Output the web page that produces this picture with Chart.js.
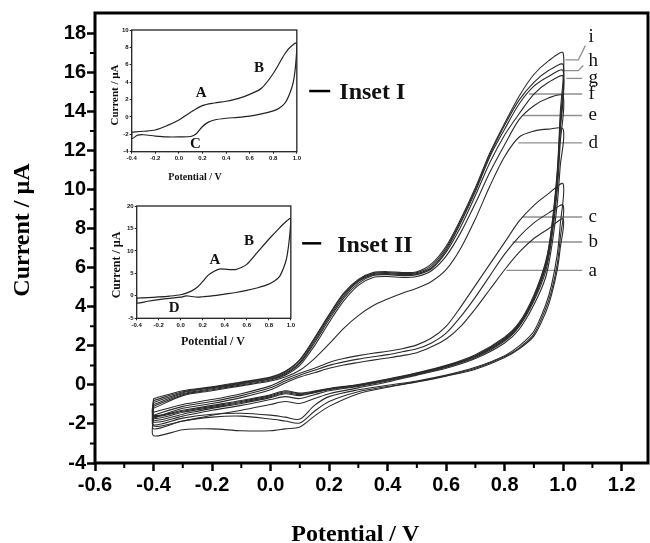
<!DOCTYPE html>
<html>
<head>
<meta charset="utf-8">
<script src="https://cdn.jsdelivr.net/npm/chart.js@4.4.1/dist/chart.umd.min.js"></script>
<style>
  html, body { margin: 0; padding: 0; background: #fff; }
  .wrap { position: relative; width: 650px; height: 543px; }
  #main { position: absolute; left: 0; top: 0; }
  #inset1 { position: absolute; left: 100px; top: 22px; }
  #inset2 { position: absolute; left: 100px; top: 196px; }
</style>
</head>
<body>
<div class="wrap">
  <canvas id="main" width="650" height="543"></canvas>
  <canvas id="inset1" width="202" height="164"></canvas>
  <canvas id="inset2" width="196" height="154"></canvas>
</div>
<script>
const sans = '"Liberation Sans", Arial, sans-serif';
const serif = '"Liberation Serif", "Times New Roman", serif';

// potentials (V) for the anodic (forward) and cathodic (reverse) sweeps
const fwdV = [-0.4, -0.3, -0.2, -0.1, 0.0, 0.05, 0.1, 0.15, 0.2, 0.25, 0.3, 0.35, 0.4, 0.45, 0.5, 0.55, 0.6, 0.65, 0.7, 0.75, 0.8, 0.85, 0.9, 0.95, 1.0];
const revV = [0.99, 0.98, 0.96, 0.94, 0.9, 0.85, 0.8, 0.7, 0.6, 0.5, 0.4, 0.3, 0.2, 0.15, 0.1, 0.05, 0.0, -0.1, -0.2, -0.3, -0.4];

// currents (uA), curves a..i
const aFwd = [-1.7, -1.2, -0.95, -0.65, -0.25, 0.1, 0.4, 0.62, 0.85, 1.02, 1.15, 1.27, 1.38, 1.5, 1.65, 1.95, 2.35, 3.0, 3.9, 4.9, 5.9, 6.8, 7.5, 8.0, 8.5];
const aRev = [7.0, 5.9, 4.6, 3.7, 2.5, 1.85, 1.4, 0.8, 0.45, 0.15, -0.12, -0.45, -1.1, -1.6, -2.15, -2.25, -2.35, -2.35, -2.25, -2.3, -2.6];
const bFwd = [-1.55, -1.1, -0.85, -0.55, -0.15, 0.2, 0.5, 0.75, 1.0, 1.18, 1.32, 1.44, 1.55, 1.7, 1.85, 2.15, 2.65, 3.5, 4.5, 5.6, 6.7, 7.6, 8.3, 8.8, 9.2];
const bRev = [7.5, 6.2, 4.8, 3.9, 2.6, 1.9, 1.45, 0.85, 0.47, 0.17, -0.08, -0.35, -0.85, -1.35, -1.95, -1.85, -1.75, -1.6, -1.65, -1.85, -2.25];
const cFwd = [-1.4, -1.0, -0.75, -0.45, -0.05, 0.3, 0.6, 0.85, 1.15, 1.35, 1.5, 1.62, 1.72, 1.85, 2.05, 2.4, 3.0, 4.0, 5.1, 6.2, 7.3, 8.4, 9.2, 9.8, 10.3];
const cRev = [8.2, 6.7, 5.1, 4.1, 2.75, 2.0, 1.5, 0.9, 0.5, 0.2, -0.02, -0.25, -0.6, -1.05, -1.75, -1.65, -1.55, -1.45, -1.5, -1.7, -2.05];
const dFwd = [-1.2, -0.55, -0.3, -0.05, 0.2, 0.4, 0.75, 1.35, 2.1, 2.9, 3.55, 4.05, 4.4, 4.7, 4.95, 5.3, 5.9, 7.0, 8.5, 10.2, 11.7, 12.7, 13.0, 13.1, 13.1];
const dRev = [11.2, 9.3, 7.0, 5.5, 4.1, 2.85, 2.15, 1.35, 0.85, 0.5, 0.15, -0.15, -0.45, -0.7, -0.95, -0.85, -1.0, -1.3, -1.55, -1.85, -2.1];
const eFwd = [-1.1, -0.5, -0.25, 0.0, 0.25, 0.5, 1.0, 2.0, 3.2, 4.3, 5.1, 5.5, 5.55, 5.5, 5.55, 5.85, 6.6, 7.8, 9.3, 10.9, 12.3, 13.6, 14.3, 14.7, 14.8];
const eRev = [12.4, 10.0, 7.4, 5.8, 4.3, 3.0, 2.25, 1.4, 0.9, 0.53, 0.2, -0.08, -0.3, -0.5, -0.7, -0.6, -0.75, -1.05, -1.3, -1.6, -1.9];
const fFwd = [-1.0, -0.45, -0.2, 0.05, 0.3, 0.55, 1.1, 2.15, 3.35, 4.45, 5.2, 5.6, 5.65, 5.6, 5.65, 5.95, 6.8, 8.1, 9.7, 11.4, 12.8, 13.9, 14.9, 15.5, 15.8];
const fRev = [13.0, 10.4, 7.6, 6.0, 4.4, 3.05, 2.3, 1.45, 0.93, 0.56, 0.24, -0.04, -0.25, -0.4, -0.55, -0.45, -0.65, -0.95, -1.2, -1.5, -1.8];
const gFwd = [-0.9, -0.4, -0.15, 0.08, 0.33, 0.6, 1.15, 2.25, 3.45, 4.55, 5.3, 5.65, 5.7, 5.65, 5.7, 6.0, 6.9, 8.3, 9.9, 11.7, 13.1, 14.4, 15.3, 15.8, 16.1];
const gRev = [13.2, 10.6, 7.8, 6.1, 4.45, 3.1, 2.35, 1.48, 0.95, 0.58, 0.26, -0.02, -0.22, -0.37, -0.5, -0.4, -0.6, -0.9, -1.15, -1.4, -1.7];
const hFwd = [-0.8, -0.35, -0.12, 0.12, 0.37, 0.66, 1.25, 2.35, 3.55, 4.65, 5.35, 5.7, 5.75, 5.7, 5.75, 6.1, 7.0, 8.4, 10.0, 11.8, 13.3, 14.6, 15.5, 16.1, 16.4];
const hRev = [13.5, 10.8, 7.9, 6.2, 4.5, 3.15, 2.4, 1.5, 0.97, 0.6, 0.28, 0.0, -0.2, -0.35, -0.45, -0.35, -0.55, -0.85, -1.1, -1.35, -1.6];
const iFwd = [-0.7, -0.3, -0.1, 0.15, 0.4, 0.7, 1.3, 2.4, 3.6, 4.7, 5.4, 5.75, 5.8, 5.75, 5.8, 6.2, 7.1, 8.5, 10.1, 11.9, 13.4, 14.8, 15.9, 16.6, 17.0];
const iRev = [13.9, 11.0, 8.0, 6.3, 4.6, 3.2, 2.45, 1.55, 1.0, 0.62, 0.3, 0.02, -0.18, -0.32, -0.42, -0.3, -0.5, -0.8, -1.05, -1.3, -1.55];

// curve letters and their leader lines
const curveNames = ["a", "b", "c", "d", "e", "f", "g", "h", "i"];
const labelI = [5.85, 7.3, 8.6, 12.4, 13.8, 14.9, 15.7, 16.6, 17.8];
const leaderStartV = [0.806, 0.827, 0.861, 0.847, 0.864, 0.883, 1.011, 0.997, 1.008];
const leaderEndV = [1.065, 1.065, 1.065, 1.065, 1.065, 1.065, 1.065, 1.052, 1.052];
const leaderI = [5.87, 7.32, 8.6, 12.4, 13.8, 14.9, 15.7, 16.1, 16.65];
const leaderTipV = [null, null, null, null, null, null, null, 1.069, 1.076];
const leaderTipI = [null, null, null, null, null, null, null, 16.36, 17.38];
const labelV = 1.087;

// axis ticks
const xTicks = [-0.6, -0.4, -0.2, 0.0, 0.2, 0.4, 0.6, 0.8, 1.0, 1.2];
const yTicks = [-4, -2, 0, 2, 4, 6, 8, 10, 12, 14, 16, 18];
const minorX = [-0.5, -0.3, -0.1, 0.1, 0.3, 0.5, 0.7, 0.9, 1.1];
const minorY = [-3, -1, 1, 3, 5, 7, 9, 11, 13, 15, 17];

// inset I
const ins1UpV = [-0.4, -0.3, -0.2, -0.1, 0, 0.1, 0.2, 0.3, 0.4, 0.5, 0.6, 0.7, 0.8, 0.9, 0.95, 1.0];
const ins1Up = [-1.75, -1.65, -1.5, -1.0, -0.35, 0.55, 1.3, 1.6, 1.8, 2.1, 2.6, 3.3, 5.0, 7.3, 8.1, 8.5];
const ins1DownV = [0.99, 0.97, 0.94, 0.9, 0.85, 0.8, 0.7, 0.6, 0.5, 0.4, 0.3, 0.25, 0.2, 0.15, 0.1, 0.0, -0.1, -0.2, -0.3, -0.35, -0.4];
const ins1Down = [6.0, 4.0, 2.7, 1.6, 1.0, 0.7, 0.35, 0.1, -0.05, -0.15, -0.35, -0.6, -1.1, -1.9, -2.25, -2.3, -2.3, -2.2, -2.05, -2.1, -2.5];

// inset II
const ins2UpV = [-0.4, -0.3, -0.2, -0.1, 0, 0.05, 0.1, 0.15, 0.2, 0.25, 0.3, 0.35, 0.4, 0.45, 0.5, 0.55, 0.6, 0.7, 0.8, 0.9, 0.95, 1.0];
const ins2Up = [-0.5, -0.4, -0.25, -0.05, 0.25, 0.6, 1.1, 1.9, 3.2, 4.6, 5.4, 5.95, 5.95, 5.85, 5.85, 6.3, 7.0, 9.8, 12.6, 15.2, 16.4, 17.2];
const ins2DownV = [0.99, 0.97, 0.95, 0.9, 0.85, 0.8, 0.7, 0.6, 0.5, 0.4, 0.3, 0.2, 0.15, 0.1, 0.05, 0.0, -0.1, -0.2, -0.3, -0.4];
const ins2Down = [13.5, 9.5, 7.3, 4.4, 3.3, 2.6, 1.8, 1.2, 0.75, 0.4, 0.05, -0.2, -0.3, -0.15, 0.0, -0.3, -0.55, -0.85, -1.2, -1.6];

function loop(upV, up, downV, down) {
  const pts = upV.map((v, i) => ({ x: v, y: up[i] }));
  downV.forEach((v, i) => pts.push({ x: v, y: down[i] }));
  pts.push(pts[0]);
  return pts;
}

function fmt1(v) {
  return Math.abs(v) < 1e-9 ? "0.0" : v.toFixed(1);
}

const curves = [
  [aFwd, aRev], [bFwd, bRev], [cFwd, cRev], [dFwd, dRev], [eFwd, eRev],
  [fFwd, fRev], [gFwd, gRev], [hFwd, hRev], [iFwd, iRev],
];

const curveSets = curves.map(([f, r]) => ({
  data: loop(fwdV, f, revV, r),
  borderColor: "#2b2b2b",
  borderWidth: 1.1,
  pointRadius: 0,
  tension: 0.3,
  fill: false,
}));

const leaderSets = curveNames.map((n, i) => {
  const pts = [
    { x: leaderStartV[i], y: leaderI[i] },
    { x: leaderEndV[i], y: leaderI[i] },
  ];
  if (leaderTipV[i] !== null) pts.push({ x: leaderTipV[i], y: leaderTipI[i] });
  return { data: pts, borderColor: "#8f8f8f", borderWidth: 1.3, pointRadius: 0, tension: 0 };
});

const mainDecor = {
  id: "mainDecor",
  afterDraw(chart) {
    const { ctx, chartArea: area, scales: { x, y } } = chart;
    ctx.save();
    ctx.strokeStyle = "#000";
    ctx.lineWidth = 2;
    ctx.beginPath();
    minorX.forEach((v) => {
      const px = x.getPixelForValue(v);
      ctx.moveTo(px, area.bottom);
      ctx.lineTo(px, area.bottom + 5);
    });
    minorY.forEach((v) => {
      const py = y.getPixelForValue(v);
      ctx.moveTo(area.left, py);
      ctx.lineTo(area.left - 5, py);
    });
    ctx.stroke();
    ctx.lineWidth = 3;
    ctx.strokeRect(area.left, area.top, area.right - area.left, area.bottom - area.top);

    ctx.fillStyle = "#111";
    ctx.textBaseline = "middle";
    ctx.textAlign = "left";
    ctx.font = "19px " + serif;
    curveNames.forEach((n, i) => {
      ctx.fillText(n, x.getPixelForValue(labelV), y.getPixelForValue(labelI[i]));
    });

    // "— Inset I" / "— Inset II" callouts
    ctx.font = "bold 24px " + serif;
    ctx.lineWidth = 2.5;
    [["Inset I", 0.132, 0.204, 0.235, 14.95], ["Inset II", 0.108, 0.173, 0.228, 7.15]].forEach(([t, d0, d1, tv, ti]) => {
      const py = y.getPixelForValue(ti);
      ctx.beginPath();
      ctx.moveTo(x.getPixelForValue(d0), py - 2);
      ctx.lineTo(x.getPixelForValue(d1), py - 2);
      ctx.stroke();
      ctx.fillText(t, x.getPixelForValue(tv), py);
    });

    // axis titles
    ctx.fillStyle = "#000";
    ctx.textAlign = "center";
    ctx.textBaseline = "alphabetic";
    const cx = (x.getPixelForValue(-0.6) + x.getPixelForValue(1.2)) / 2 - 3;
    ctx.fillText("Potential / V", cx, 541);
    ctx.translate(23, 230);
    ctx.rotate(-Math.PI / 2);
    ctx.textBaseline = "middle";
    ctx.fillText("Current / µA", 0, 0);
    ctx.restore();
  },
};

new Chart(document.getElementById("main"), {
  type: "line",
  data: { datasets: [...curveSets, ...leaderSets] },
  options: {
    responsive: false,
    animation: false,
    layout: { padding: { top: 13, right: 2, left: 0, bottom: 0 } },
    plugins: { legend: { display: false }, tooltip: { enabled: false } },
    scales: {
      x: {
        type: "linear",
        min: -0.6,
        max: 1.29,
        afterFit: (s) => { s.height = 80; },
        afterBuildTicks: (s) => { s.ticks = xTicks.map((v) => ({ value: v })); },
        border: { display: false },
        grid: { drawOnChartArea: false, tickLength: 8, tickWidth: 2.5, color: "#000" },
        ticks: {
          autoSkip: false,
          maxRotation: 0,
          padding: 2,
          color: "#000",
          font: { family: sans, size: 20, weight: "bold" },
          callback: fmt1,
        },
      },
      y: {
        min: -4,
        max: 19.05,
        afterFit: (s) => { s.width = 95; },
        afterBuildTicks: (s) => { s.ticks = yTicks.map((v) => ({ value: v })); },
        border: { display: false },
        grid: { drawOnChartArea: false, tickLength: 8, tickWidth: 2.5, color: "#000" },
        ticks: {
          autoSkip: false,
          padding: 1,
          color: "#000",
          font: { family: sans, size: 20, weight: "bold" },
          callback: (v) => String(Math.round(v)),
        },
      },
    },
  },
  plugins: [mainDecor],
});

function insetDecor(opt) {
  return {
    id: "insetDecor",
    afterDraw(chart) {
      const { ctx, chartArea: area, scales: { x, y } } = chart;
      ctx.save();
      ctx.strokeStyle = "#222";
      ctx.lineWidth = 1.3;
      ctx.strokeRect(area.left, area.top, area.right - area.left, area.bottom - area.top);
      ctx.fillStyle = "#111";
      ctx.textAlign = "center";
      ctx.textBaseline = "middle";
      ctx.font = "bold 15px " + serif;
      opt.letters.forEach((t, i) => {
        ctx.fillText(t, x.getPixelForValue(opt.letterV[i]), y.getPixelForValue(opt.letterI[i]));
      });
      ctx.font = "bold " + opt.xTitleSize + "px " + serif;
      ctx.fillText("Potential / V", opt.xTitle[0], opt.xTitle[1]);
      ctx.translate(opt.yTitle[0], opt.yTitle[1]);
      ctx.rotate(-Math.PI / 2);
      ctx.font = "bold " + opt.yTitleSize + "px " + serif;
      ctx.fillText("Current / µA", 0, 0);
      ctx.restore();
    },
  };
}

function insetChart(id, opt) {
  const tickFont = { family: sans, size: 6, weight: "bold" };
  return new Chart(document.getElementById(id), {
    type: "line",
    data: {
      datasets: [{
        data: opt.points,
        borderColor: "#222",
        borderWidth: 1.2,
        pointRadius: 0,
        tension: 0.3,
        fill: false,
      }],
    },
    options: {
      responsive: false,
      animation: false,
      layout: { padding: opt.padding },
      plugins: { legend: { display: false }, tooltip: { enabled: false } },
      scales: {
        x: {
          type: "linear",
          min: -0.4,
          max: 1.0,
          afterFit: (s) => { s.height = opt.xh; },
          border: { display: false },
          grid: { drawOnChartArea: false, tickLength: 2, color: "#222" },
          ticks: { stepSize: 0.2, autoSkip: false, maxRotation: 0, padding: 1, color: "#111", font: tickFont, callback: fmt1 },
        },
        y: {
          min: opt.yMin,
          max: opt.yMax,
          afterFit: (s) => { s.width = opt.yw; },
          border: { display: false },
          grid: { drawOnChartArea: false, tickLength: 2, color: "#222" },
          ticks: { stepSize: opt.yStep, padding: 1, color: "#111", font: tickFont },
        },
      },
    },
    plugins: [insetDecor(opt)],
  });
}

insetChart("inset1", {
  points: loop(ins1UpV, ins1Up, ins1DownV, ins1Down),
  padding: { top: 8, right: 3.7, left: 0, bottom: 0 },
  xh: 34.3,
  yw: 31.7,
  yMin: -4,
  yMax: 10,
  yStep: 2,
  letters: ["A", "B", "C"],
  letterV: [0.19, 0.68, 0.14],
  letterI: [2.7, 5.6, -3.1],
  xTitle: [95, 155],
  xTitleSize: 10,
  yTitle: [15, 73],
  yTitleSize: 11,
});

insetChart("inset2", {
  points: loop(ins2UpV, ins2Up, ins2DownV, ins2Down),
  padding: { top: 10, right: 4.3, left: 0, bottom: 0 },
  xh: 31.7,
  yw: 36.7,
  yMin: -5,
  yMax: 20,
  yStep: 5,
  letters: ["A", "B", "D"],
  letterV: [0.31, 0.62, -0.06],
  letterI: [8.0, 12.1, -2.7],
  xTitle: [113, 146],
  xTitleSize: 12,
  yTitle: [16.7, 69],
  yTitleSize: 12,
});
</script>
</body>
</html>
